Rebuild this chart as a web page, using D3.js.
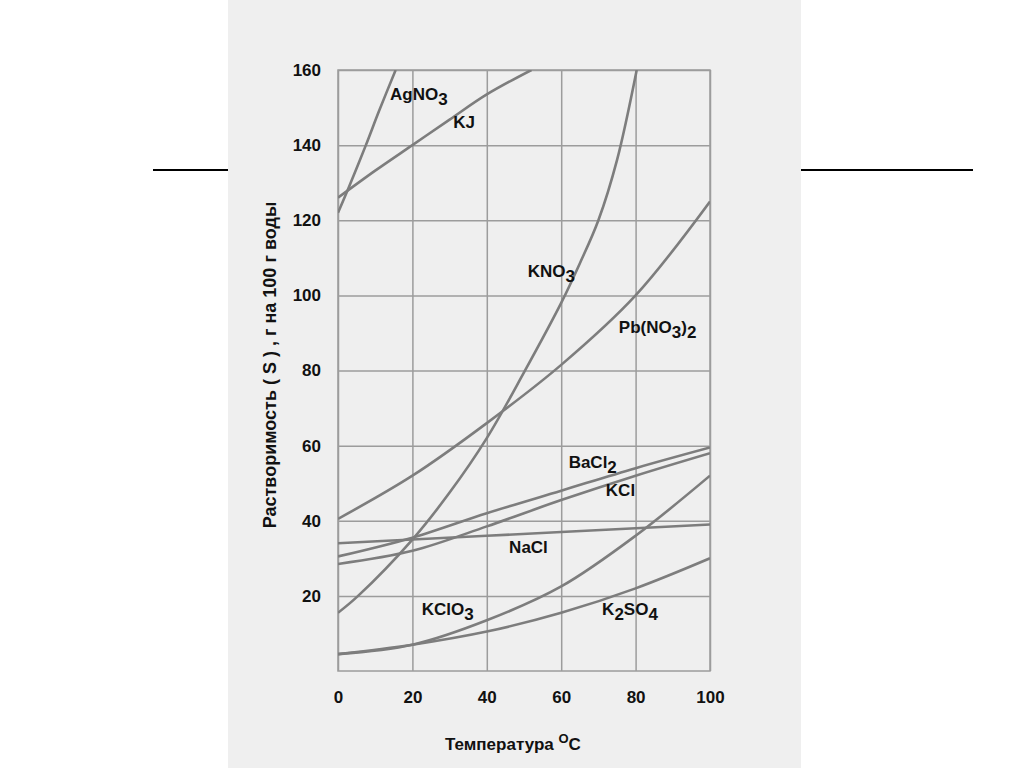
<!DOCTYPE html>
<html lang="ru">
<head>
  <meta charset="UTF-8">
  <title>Растворимость</title>
</head>
<style>
    body { margin: 0; background: #fff; }
    text {
      font-family: "Liberation Sans", Arial, Helvetica, sans-serif;
      font-weight: bold;
      fill: #111;
    }
    .grid line, .grid path { stroke: #9c9c9c; stroke-width: 1.5px; }
    .curve { fill: none; stroke: #7d7d7d; stroke-width: 2.6px; }
    .lbl { font-size: 17px; }
</style>
<body>
<div id="chart"></div>
<script src="https://d3js.org/d3.v7.min.js"></script>
<script>
/* global d3 */

// [temperature °C, g per 100 g water]
var xTicks = [0, 20, 40, 60, 80, 100];
var yTicks = [20, 40, 60, 80, 100, 120, 140, 160];

var agno3  = [[0,122],[3,129],[7.5,140],[11,149],[15.5,160]];
var kj     = [[0,126],[10,133.2],[20,140],[30,146.8],[40,153.5],[52,160]];
var kno3   = [[0,15.5],[5.4,20],[20,35],[30,47.5],[40,62],[50,79.5],[60,98],[65,108.5],[70,120],[75,136],[80.3,160]];
var pbno32 = [[0,40.5],[20,52],[40,66],[60,81.5],[80,100],[100,125]];
var bacl2  = [[0,30.5],[20,35.5],[40,42],[60,48],[80,54],[100,59.5]];
var kcl    = [[0,28.5],[20,32],[40,38.5],[60,45.5],[80,52],[100,58]];
var nacl   = [[0,34],[20,35],[40,36],[60,37],[80,38],[100,39]];
var kclo3  = [[0,4.5],[20,7],[40,13.5],[60,22.5],[80,36],[100,52]];
var k2so4  = [[0,4.5],[20,7],[40,10.5],[60,15.5],[80,22],[100,30]];

var series = [agno3, kj, kno3, pbno32, bacl2, kcl, nacl, kclo3, k2so4];

// labels: [main, sub, tail, tailSub, t, s]
var labels = [
  ["AgNO", "3", "", "", 14, 152],
  ["KJ", "", "", "", 31, 144.5],
  ["KNO", "3", "", "", 51, 105],
  ["Pb(NO", "3", ")", "2", 75.5, 90],
  ["BaCl", "2", "", "", 62, 54],
  ["KCl", "", "", "", 72, 46.5],
  ["NaCl", "", "", "", 46, 31.5],
  ["KClO", "3", "", "", 22.5, 15],
  ["K", "2", "SO", "4", 71, 15]
];

var width = 1024, height = 768;
var svg = d3.select("#chart").append("svg")
    .attr("width", width)
    .attr("height", height);

// scanned page
svg.append("rect")
    .attr("x", 228).attr("y", 0)
    .attr("width", 573).attr("height", height)
    .attr("fill", "#efefef");

svg.append("line").attr("x1", 153).attr("x2", 228).attr("y1", 170).attr("y2", 170)
    .attr("stroke", "#000").attr("stroke-width", 2);
svg.append("line").attr("x1", 801).attr("x2", 973).attr("y1", 170).attr("y2", 170)
    .attr("stroke", "#000").attr("stroke-width", 2);

var x = d3.scaleLinear().domain([0, 100]).range([338, 710]);
var y = d3.scaleLinear().domain([0, 160]).range([671, 70]);

// grid
svg.append("g").attr("class", "grid")
    .attr("transform", "translate(0,671)")
    .call(d3.axisBottom(x).tickValues(xTicks).tickSize(-(671 - 70)).tickFormat(""))
    .call(g => g.select(".domain").remove());
svg.append("g").attr("class", "grid")
    .attr("transform", "translate(338,0)")
    .call(d3.axisLeft(y).tickValues(yTicks).tickSize(-(710 - 338)).tickFormat(""))
    .call(g => g.select(".domain").remove());
svg.append("rect")
    .attr("x", x(0)).attr("y", y(160))
    .attr("width", x(100) - x(0)).attr("height", y(0) - y(160))
    .attr("fill", "none").attr("stroke", "#9c9c9c").attr("stroke-width", 1.5);

// tick labels
var xAx = svg.append("g")
    .attr("transform", "translate(0,671)")
    .call(d3.axisBottom(x).tickValues(xTicks).tickSize(0).tickPadding(20));
var yAx = svg.append("g")
    .attr("transform", "translate(338,0)")
    .call(d3.axisLeft(y).tickValues(yTicks).tickSize(0).tickPadding(17));
[xAx, yAx].forEach(function(a) {
  a.select(".domain").remove();
  a.selectAll("text")
    .style("font-family", '"Liberation Sans", Arial, sans-serif')
    .style("font-weight", "bold")
    .style("font-size", "17px")
    .attr("fill", "#111");
});

// curves
svg.append("clipPath").attr("id", "plot")
  .append("rect")
    .attr("x", x(0)).attr("y", y(160))
    .attr("width", x(100) - x(0)).attr("height", y(0) - y(160));

var line = d3.line()
    .x(function(d) { return x(d[0]); })
    .y(function(d) { return y(d[1]); })
    .curve(d3.curveCatmullRom.alpha(0.5));

svg.append("g").attr("clip-path", "url(#plot)")
  .selectAll("path")
  .data(series)
  .enter().append("path")
    .attr("class", "curve")
    .attr("d", line);

// formula labels
labels.forEach(function(l) {
  var t = svg.append("text").attr("class", "lbl")
      .attr("x", x(l[4])).attr("y", y(l[5]));
  t.append("tspan").text(l[0]);
  if (l[1]) t.append("tspan").attr("dy", 5).text(l[1]);
  if (l[2]) t.append("tspan").attr("dy", l[1] ? -5 : 0).text(l[2]);
  if (l[3]) t.append("tspan").attr("dy", 5).text(l[3]);
});

// axis titles
var xt = svg.append("text")
    .attr("x", 445).attr("y", 750)
    .style("font-size", "17px");
xt.append("tspan").text("Температура ");
xt.append("tspan").attr("dy", -7).style("font-size", "13px").text("O");
xt.append("tspan").attr("dy", 7).text("C");

svg.append("text")
    .attr("transform", "translate(276,365) rotate(-90)")
    .attr("text-anchor", "middle")
    .style("font-size", "18px")
    .text("Растворимость ( S ) , г на 100 г воды");
</script>
</body>
</html>
